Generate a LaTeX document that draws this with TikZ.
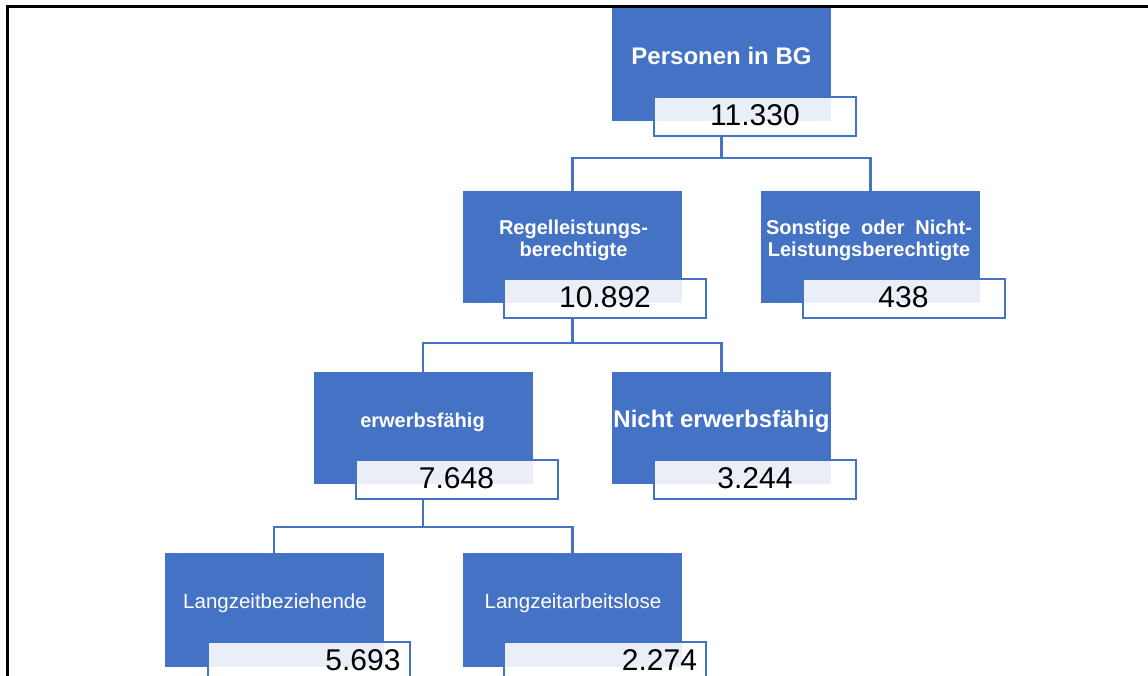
\documentclass[tikz,border=0pt]{standalone}
\usepackage{fontspec}
\setmainfont{Liberation Sans}
\definecolor{bblue}{HTML}{4472C4}
\definecolor{lightfill}{HTML}{E9EEF7}
\begin{document}
\begin{tikzpicture}[x=1pt,y=-1pt,
  bluebox/.style={fill=bblue, draw=none, minimum width=219pt, minimum height=112pt, inner sep=0pt},
  lbl/.style={text=white, font=\bfseries\fontsize{20}{22}\selectfont, align=center, inner sep=0pt},
  lblbig/.style={text=white, font=\bfseries\fontsize{24}{26}\selectfont, inner sep=0pt},
  lblreg/.style={text=white, font=\fontsize{20.5}{22}\selectfont, inner sep=0pt},
  valbox/.style={draw=bblue, line width=2pt, fill=white, minimum width=202pt, minimum height=39pt,
    inner sep=0pt, text height=21.5pt, text depth=3.5pt, font=\fontsize{30}{32}\selectfont, text=black,
    path picture={\fill[lightfill] (path picture bounding box.north west) rectangle (#1.south east);}},
  conn/.style={draw=bblue, line width=2.2pt},
  framebox/.style={draw=black, line width=3pt}]
\useasboundingbox (0,0) rectangle (1148,676);
\clip (0,0) rectangle (1148,676);

% blue boxes and labels
\node[bluebox, minimum height=113pt] (b1) at (721.5,64.5) {};
\node[lblbig] (t1) at (721.5,56) {Personen in BG};
\node[bluebox] (b2) at (572.5,247) {};
\node[lbl] (t2) at (573.5,240) {Regelleistungs-\\berechtigte};
\node[bluebox] (b3) at (870.5,247) {};
\node[lbl] (t3) at (869,240) {\makebox[206pt][s]{Sonstige oder Nicht-}\\Leistungsberechtigte};
\node[bluebox] (b4) at (423,428) {};
\node[lbl] (t4) at (422.5,422) {erwerbsfähig};
\node[bluebox] (b5) at (721.5,428) {};
\node[lblbig] (t5) at (721.5,421) {Nicht erwerbsfähig};
\node[bluebox, minimum height=114pt] (b6) at (274,610) {};
\node[lblreg] (t6) at (275,603) {Langzeitbeziehende};
\node[bluebox, minimum height=114pt] (b7) at (572.5,610) {};
\node[lblreg] (t7) at (573,603) {Langzeitarbeitslose};

% rails
\coordinate (r1) at (0,158);
\coordinate (r2) at (0,343);
\coordinate (r3) at (0,527);

% connectors
\draw[conn] (b1.south) -- (b1.south |- r1);
\draw[conn] (b2.north) |- (b3.north |- r1) -- (b3.north);
\draw[conn] (b2.south) -- (b2.south |- r2);
\draw[conn] (b4.north) |- (b5.north |- r2) -- (b5.north);
\draw[conn] (b4.south) -- (b4.south |- r3);
\draw[conn] (b6.north) |- (b7.north |- r3) -- (b7.north);

% value boxes
\node[valbox=b1] (v1) at (755,116.5) {11.330};
\node[valbox=b2] (v2) at (605,298.5) {10.892};
\node[valbox=b3] (v3) at (903.5,298.5) {438};
\node[valbox=b4] (v4) at (456.5,479) {7.648};
\node[valbox=b5] (v5) at (755,479) {3.244};
\node[valbox=b6, text width=184pt, align=right] (v6) at (308.5,661.5) {5.693};
\node[valbox=b7, text width=184pt, align=right] (v7) at (605,661.5) {2.274};

% frame
\draw[framebox] (7,676) -- (7,7) -- (1148,7);
\end{tikzpicture}
\end{document}
